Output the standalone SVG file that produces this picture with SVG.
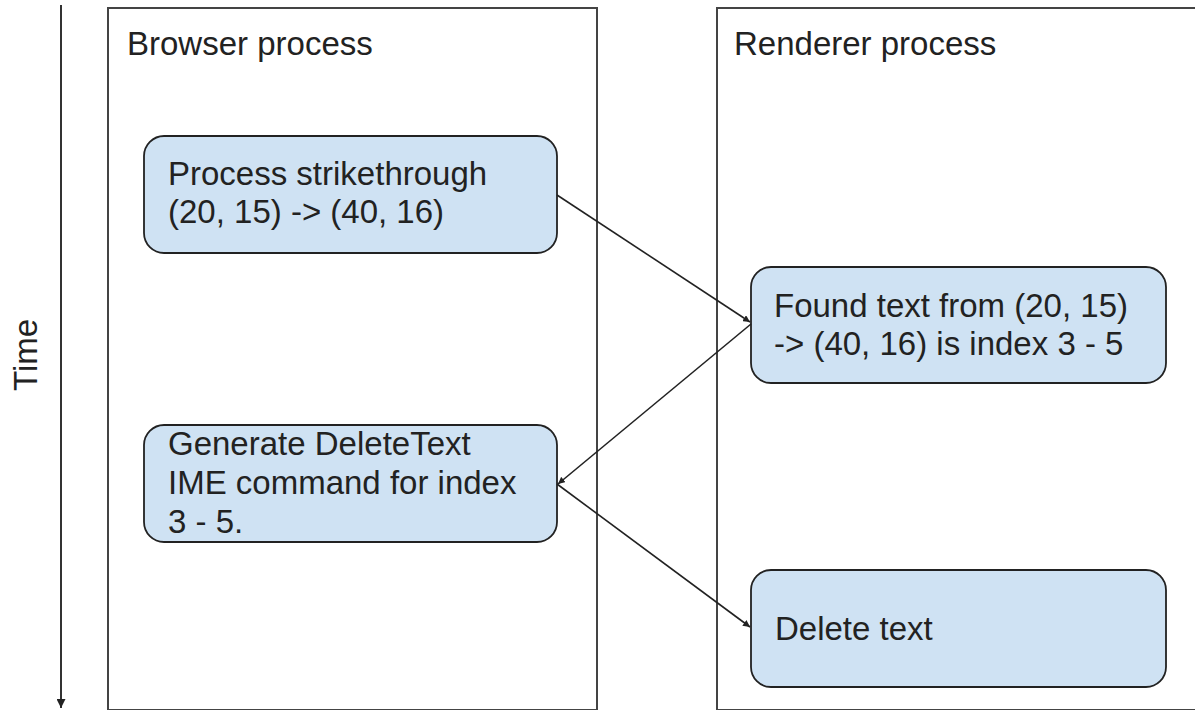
<svg xmlns="http://www.w3.org/2000/svg" width="1195" height="710" viewBox="0 0 1195 710">
<style>
text{font-family:"Liberation Sans",Arial,sans-serif;font-size:33px;fill:#222}
.lane{fill:#fff;stroke:#444;stroke-width:2}
.node{fill:#cfe2f3;stroke:#222;stroke-width:1.8}
.conn{stroke:#222;stroke-width:1.6;fill:none;marker-end:url(#ah)}
</style>
<defs>
<marker id="ah" viewBox="0 0 10 10" refX="10" refY="5" markerWidth="7" markerHeight="7" markerUnits="userSpaceOnUse" orient="auto">
<path d="M0,0 L10,5 L0,10 z" fill="#222"/>
</marker>
<marker id="ah2" viewBox="0 0 10 10" refX="10" refY="5" markerWidth="9" markerHeight="9" markerUnits="userSpaceOnUse" orient="auto">
<path d="M0,0 L10,5 L0,10 z" fill="#222"/>
</marker>
</defs>
<rect width="1195" height="710" fill="#fff"/>
<g id="time-axis">
<line x1="61" y1="5" x2="61" y2="708" stroke="#333" stroke-width="2" marker-end="url(#ah2)"/>
<text transform="translate(37,355) rotate(-90)" text-anchor="middle">Time</text>
</g>
<g id="browser-lane">
<rect class="lane" x="108" y="8" width="489" height="702"/>
<text x="127" y="55">Browser process</text>
</g>
<g id="renderer-lane">
<rect class="lane" x="717" y="8" width="490" height="702"/>
<text x="734" y="55">Renderer process</text>
</g>
<g id="node-strike">
<rect class="node" x="144" y="136" width="413" height="117" rx="20"/>
<text x="168" y="185">Process strikethrough</text>
<text x="168" y="223">(20, 15) -&gt; (40, 16)</text>
</g>
<g id="node-found">
<rect class="node" x="751" y="267" width="415" height="116" rx="20"/>
<text x="774" y="317">Found text from (20, 15)</text>
<text x="774" y="355">-&gt; (40, 16) is index 3 - 5</text>
</g>
<g id="node-generate">
<rect class="node" x="144" y="425" width="413" height="117" rx="20"/>
<text x="168" y="455">Generate DeleteText</text>
<text x="168" y="494">IME command for index</text>
<text x="168" y="533">3 - 5.</text>
</g>
<g id="node-delete">
<rect class="node" x="751" y="570" width="415" height="117" rx="20"/>
<text x="775" y="640">Delete text</text>
</g>
<g id="connectors">
<path class="conn" d="M557,195 L750,322"/>
<path class="conn" d="M751,324 L558,484"/>
<path class="conn" d="M557,484 L750,627"/>
</g>
</svg>
